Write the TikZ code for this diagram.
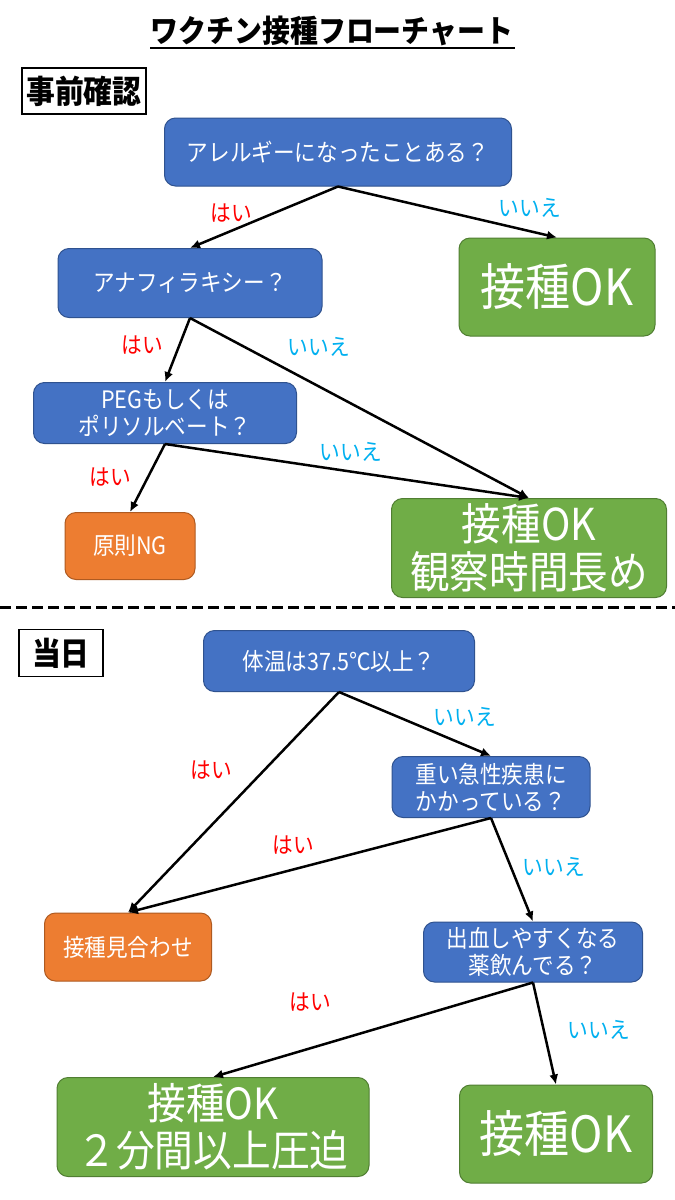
\documentclass[tikz,border=0pt]{standalone}
\usepackage{fontspec}
\setmainfont{Noto Sans CJK JP}[FakeStretch=0.9]
\usetikzlibrary{arrows.meta}
\definecolor{boxblue}{HTML}{4472C4}
\definecolor{blueedge}{HTML}{2F528F}
\definecolor{boxgreen}{HTML}{70AD47}
\definecolor{greenedge}{HTML}{507E32}
\definecolor{boxorange}{HTML}{ED7D31}
\definecolor{orangeedge}{HTML}{AE5A21}
\definecolor{nocyan}{HTML}{00B0F0}
\begin{document}
\begin{tikzpicture}[x=1pt,y=-1pt,
  box/.style={rounded corners=11pt, text=white, align=center, inner sep=0pt, line width=1pt, font=\fontsize{24}{27}\selectfont},
  bluebox/.style={box, fill=boxblue, draw=blueedge},
  greenbox/.style={box, fill=boxgreen, draw=greenedge},
  orangebox/.style={box, fill=boxorange, draw=orangeedge},
  bigtext/.style={font=\fontsize{50}{54}\selectfont},
  midtext/.style={font=\fontsize{44}{48}\selectfont},
  arr/.style={-{Latex[length=10pt,width=9pt]}, line width=2.5pt},
  yeslbl/.style={text=red, inner sep=0pt, font=\fontsize{23}{26}\selectfont},
  nolbl/.style={text=nocyan, inner sep=0pt, font=\fontsize{23}{26}\selectfont},
  section/.style={draw, line width=1.5pt, inner sep=0pt, font=\bfseries\fontsize{32}{34}\selectfont}]
\useasboundingbox[fill=white] (0,0) rectangle (675,1200);

% title
\node[inner sep=0pt, font=\bfseries\fontsize{31}{34}\selectfont] (title) at (332,31) {ワクチン接種フローチャート};
\draw[line width=2pt] (150,48) -- (515,48);

% section 1
\node[section, minimum width=124pt, minimum height=46pt] (s1) at (84,91) {事前確認};

\node[bluebox, minimum width=347pt, minimum height=68pt] (A) at (338,152) {アレルギーになったことある？};
\node[bluebox, minimum width=264pt, minimum height=69pt] (B) at (190,283) {アナフィラキシー？};
\node[greenbox, bigtext, minimum width=196pt, minimum height=98pt] (OK1) at (557,287) {接種OK};
\node[bluebox, minimum width=263pt, minimum height=61pt] (C) at (165,413) {PEGもしくは\\ポリソルベート？};
\node[orangebox, minimum width=130pt, minimum height=67pt] (NG) at (130,546) {原則NG};
\node[greenbox, midtext, minimum width=275pt, minimum height=99pt] (OK2) at (529,548) {接種OK\\観察時間長め};

\draw[arr] (A.south) -- (B.north);
\draw[arr] (A.south) -- (OK1.north);
\draw[arr] (B.south) -- (C.north);
\draw[arr] (B.south) -- (OK2.north);
\draw[arr] (C.south) -- (NG.north);
\draw[arr] (C.south) -- (OK2.north);

\node[yeslbl] (l1) at (231,213) {はい};
\node[nolbl] (l2) at (530,208) {いいえ};
\node[yeslbl] (l3) at (142,345) {はい};
\node[nolbl] (l4) at (319,347) {いいえ};
\node[yeslbl] (l5) at (110,477) {はい};
\node[nolbl] (l6) at (351,452) {いいえ};

% divider
\draw[line width=3pt, dash pattern=on 11pt off 5pt] (0,607) -- (675,607);

% section 2
\node[section, minimum width=84pt, minimum height=47pt] (s2) at (61,653) {当日};

\node[bluebox, minimum width=271pt, minimum height=61pt] (D) at (339,661) {体温は37.5℃以上？};
\node[bluebox, minimum width=198pt, minimum height=61pt] (E) at (491,787) {重い急性疾患に\\かかっている？};
\node[orangebox, minimum width=167pt, minimum height=68pt] (F) at (128,947) {接種見合わせ};
\node[bluebox, minimum width=219pt, minimum height=60pt] (G) at (533,952) {出血しやすくなる\\薬飲んでる？};
\node[greenbox, font=\fontsize{43}{47}\selectfont, minimum width=312pt, minimum height=99pt] (H) at (213,1127) {接種OK\\２分間以上圧迫};
\node[greenbox, bigtext, minimum width=193pt, minimum height=98pt] (I) at (556,1134) {接種OK};

\draw[arr] (D.south) -- (F.north);
\draw[arr] (D.south) -- (E.north);
\draw[arr] (E.south) -- (F.north);
\draw[arr] (E.south) -- (G.north);
\draw[arr] (G.south) -- (H.north);
\draw[arr] (G.south) -- (I.north);

\node[yeslbl] (l7) at (211,770) {はい};
\node[nolbl] (l8) at (465,717) {いいえ};
\node[yeslbl] (l9) at (293,845) {はい};
\node[nolbl] (l10) at (554,867) {いいえ};
\node[yeslbl] (l11) at (310,1002) {はい};
\node[nolbl] (l12) at (599,1030) {いいえ};
\end{tikzpicture}
\end{document}
